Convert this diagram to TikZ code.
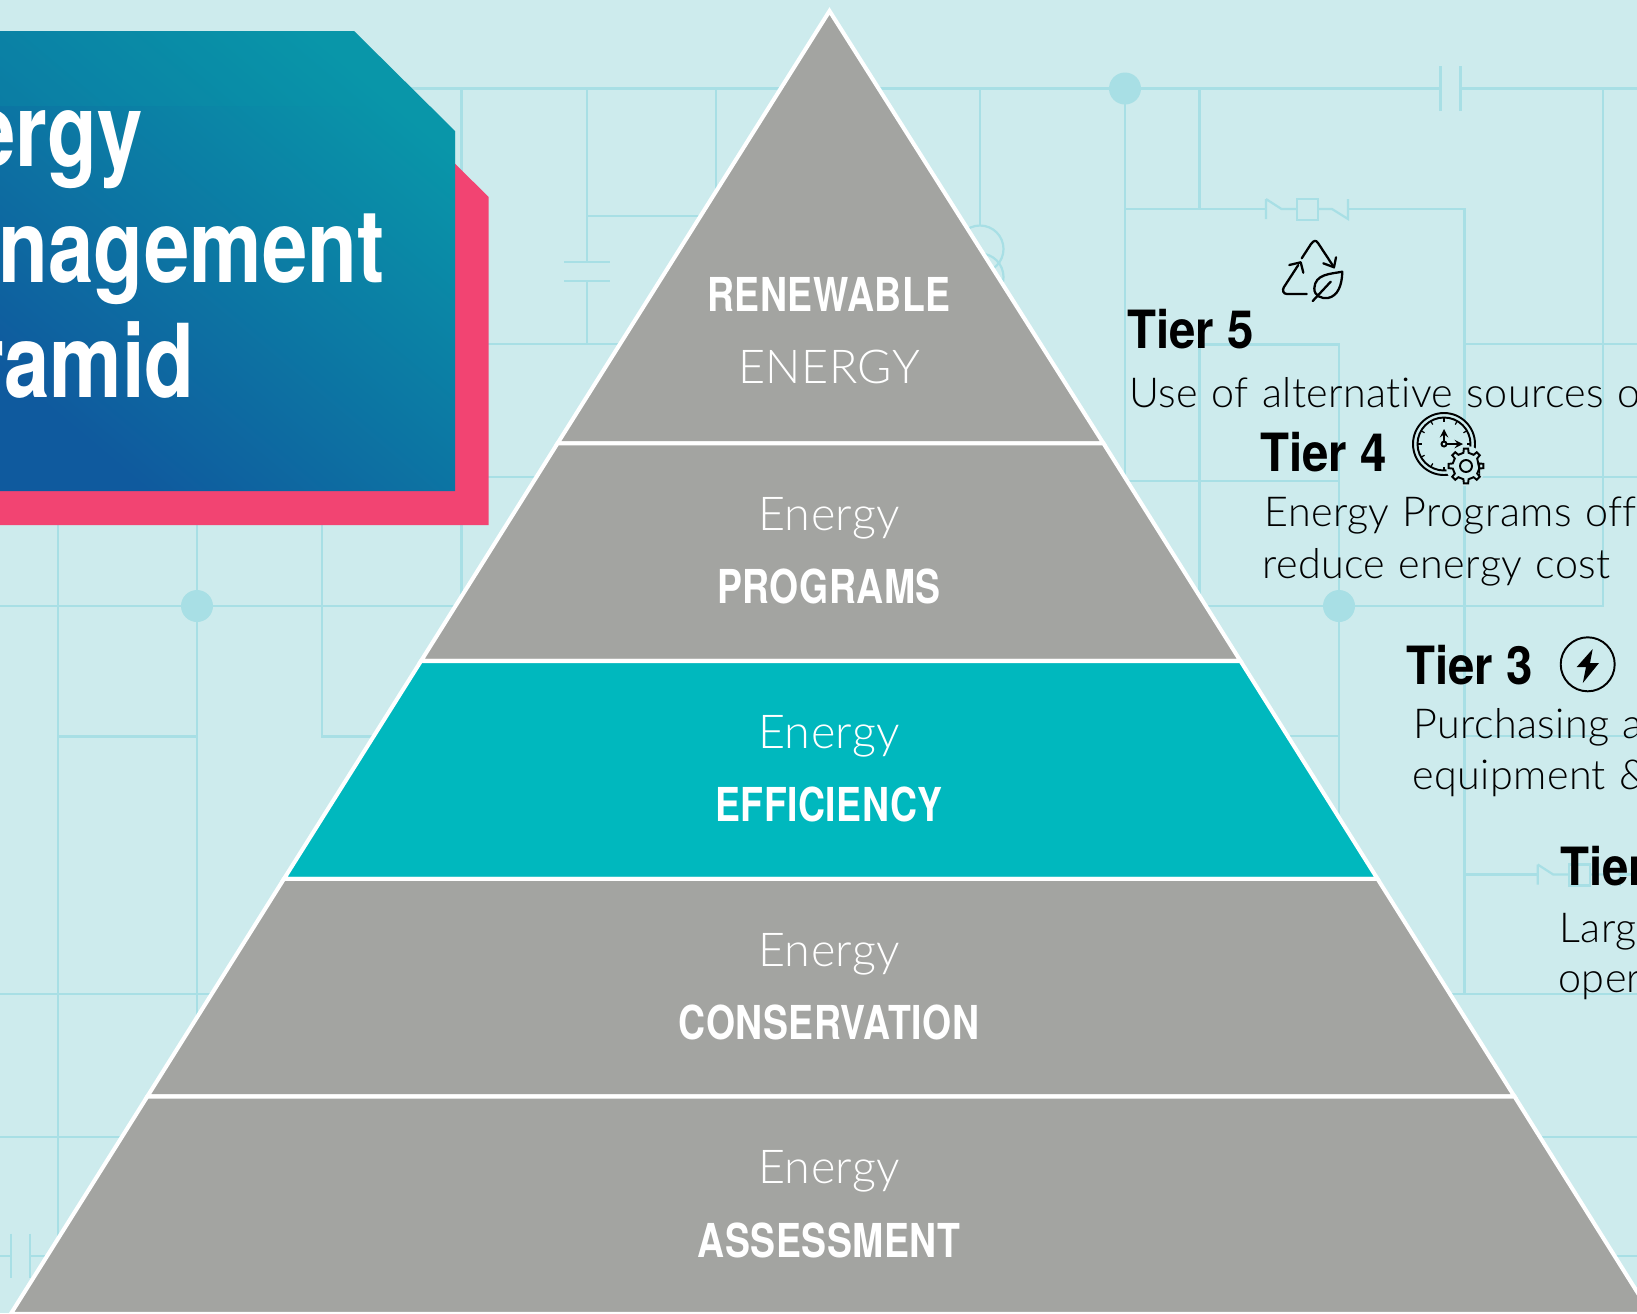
\documentclass[tikz,border=0pt]{standalone}
\usepackage{fontspec}
\usepackage{tikz}
\newfontfamily\headfont[FakeStretch=0.8,LetterSpace=1.2]{TeX Gyre Heros}
\newfontfamily\titlefont[FakeStretch=0.8]{TeX Gyre Heros}
\newfontfamily\tierfont[FakeStretch=0.9]{TeX Gyre Heros}
\newfontfamily\lightfont[Ligatures=NoCommon,LetterSpace=1,WordSpace=1.15]{Lato Light}
\definecolor{paper}{HTML}{CDEBED}
\definecolor{wirecol}{HTML}{A8DFE5}
\definecolor{flag}{HTML}{F24472}
\definecolor{stone}{HTML}{A3A4A1}
\definecolor{aqua}{HTML}{00B8BE}
\definecolor{panelA}{HTML}{0F5A9E}
\definecolor{panelB}{HTML}{0996A9}
\tikzstyle{wire} = [draw=wirecol, line width=1.25pt]
\tikzstyle{joint} = [fill=wirecol]
\tikzstyle{tier} = [draw=white, line width=2.3pt, fill=stone]
\tikzstyle{titletext} = [anchor=base east, inner sep=0pt, text=white, font=\titlefont\bfseries\fontsize{58}{60}\selectfont]
\tikzstyle{boldword} = [anchor=base, inner sep=0pt, text=white, font=\headfont\bfseries\fontsize{26.6}{28}\selectfont]
\tikzstyle{thinword} = [anchor=base, inner sep=0pt, text=white, font=\lightfont\fontsize{26.6}{28}\selectfont]
\tikzstyle{tierhead} = [anchor=base west, inner sep=0pt, font=\tierfont\bfseries\fontsize{30}{32}\selectfont]
\tikzstyle{tierbody} = [anchor=base west, inner sep=0pt, font=\lightfont\fontsize{23.5}{25}\selectfont]
\tikzstyle{icon} = [draw=black, line width=1.3pt, line cap=round, line join=round]
\tikzstyle{iconthin} = [draw=black, line width=1.1pt]

\begin{document}
\begin{tikzpicture}[x=0.02cm, y=-0.02cm]

      \useasboundingbox (0,0) rectangle (1637,1313);
      \clip (0,0) rectangle (1637,1313);
      \fill[paper] (0,0) rectangle (1637,1313);

      % Circuit
      \draw[wire] (0,88.5) -- (1440.5,88.5) (1460.5,88.5) -- (1637,88.5);
      \draw[wire] (1440.5,66) -- (1440.5,111) (1460.5,66) -- (1460.5,111);
      \draw[wire] (0,343.7) -- (800,343.7);
      \draw[wire] (0,606) -- (1603,606) -- (1603,88.5);
      \draw[wire] (0,993.6) -- (1637,993.6);
      \draw[wire] (0,1136.6) -- (1637,1136.6);
      \draw[wire] (30,1256) -- (1637,1256);
      \draw[wire] (0,1256) -- (11,1256);
      \draw[wire] (11,1233.5) -- (11,1277.6) (30,1233.5) -- (30,1277.6);
      \draw[wire] (461.5,88.5) -- (461.5,606);
      \draw[wire] (488,477) -- (800,477);
      \draw[wire] (58.3,400) -- (58.3,1290);
      \draw[wire] (197,400) -- (197,1020);
      \draw[wire] (322.3,400) -- (322.3,736.4) -- (400,736.4);
      \draw[wire] (58.3,736.4) -- (197,736.4);
      \draw[wire] (587.3,88.5) -- (587.3,261.7);
      \draw[wire] (564,261.7) -- (610,261.7) (564,281) -- (610,281);
      \draw[wire] (587.3,281) -- (587.3,343.7);
      \draw[wire] (587.3,215.7) -- (760,215.7);
      \draw[wire] (716,88.5) -- (716,240);
      \draw[wire] (980,88.5) -- (980,225.5);
      \draw[wire] (980,249) circle [radius=23.5];
      \draw[wire] (980,277) circle [radius=23.5];
      \draw[wire] (1125,88.5) -- (1125,490);
      \draw[wire] (1199.5,88.5) -- (1199.5,209);
      \draw[wire] (1125,209) -- (1266,209);
      \draw[wire] (1348,209) -- (1464.5,209) -- (1464.5,993.6);
      \draw[wire] (1464.5,874.5) -- (1537.7,874.5);
      \draw[wire] (1619.7,874.5) -- (1637,874.5);
      \foreach \cx/\cy in {1266/209,1537.7/874.5}{
        \begin{scope}[shift={(\cx,\cy)}]
          \draw[wire] (0,-10) -- (0,10) (0,-10) -- (15.5,0) -- (31,0);
          \draw[wire] (31,-10) rectangle (52,11);
          \draw[wire] (52,0) -- (66,0) -- (82,10) -- (82,-10);
        \end{scope}
      }
      \draw[wire] (1199.5,606) -- (1199.5,344.5) -- (1339,344.5) -- (1339,840);
      \draw[wire] (1100,481) -- (1339,481);
      \draw[wire] (1464.5,344) -- (1637,344);
      \draw[wire] (1464.5,476.7) -- (1637,476.7);
      \draw[wire] (1270,736) -- (1339,736) (1464.5,736) -- (1637,736);
      \fill[joint] (1125,88.5) circle [radius=16];
      \fill[joint] (197,606) circle [radius=16];
      \fill[joint] (1339,606) circle [radius=16];

      % Title panel
      \fill[flag] (0,100) -- (391,100) -- (488.6,197) -- (488.6,525) -- (0,525) -- cycle;
      \shade[left color=panelB, right color=panelA, shading angle=-40]
        (0,31) -- (354,31) -- (455,131) -- (455,491) -- (0,491) -- cycle;
      \fill[panelB, opacity=0.25] (0,31) -- (354,31) -- (455,131) -- (455,164) -- (396,106) -- (0,106) -- cycle;
      \node[titletext] (titleA) at (143,166) {ergy};
      \node[titletext] (titleB) at (385,282) {nagement};
      \node[titletext] (titleC) at (195,397) {ramid};

      % Pyramid
      \coordinate (A) at (829.5,11);
      \coordinate (B) at (557.5,443.4);
      \coordinate (C) at (1103.5,443.4);
      \coordinate (D) at (421,661);
      \coordinate (E) at (1240.5,661);
      \coordinate (F) at (284,878.8);
      \coordinate (G) at (1377.5,878.8);
      \coordinate (H) at (147.3,1096.5);
      \coordinate (I) at (1514.5,1096.5);
      \coordinate (J) at (10.7,1314);
      \coordinate (K) at (1651,1314);
      \draw[tier] (A) -- (B) -- (C) -- cycle;
      \draw[tier] (B) -- (D) -- (E) -- (C) -- cycle;
      \draw[tier, fill=aqua] (D) -- (F) -- (G) -- (E) -- cycle;
      \draw[tier] (F) -- (H) -- (I) -- (G) -- cycle;
      \draw[tier] (H) -- (J) -- (K) -- (I) -- cycle;

      % Pyramid labels
      \node[boldword] (renew) at (829,311.7) {RENEWABLE};
      \node[thinword] (renewB) at (829,383) {ENERGY};
      \node[thinword] (progA) at (829,530.5) {Energy};
      \node[boldword] (progB) at (829,603.5) {PROGRAMS};
      \node[thinword] (effA) at (829,748.5) {Energy};
      \node[boldword] (effB) at (829,821.6) {EFFICIENCY};
      \node[thinword] (consA) at (829,966.5) {Energy};
      \node[boldword] (consB) at (829,1039) {CONSERVATION};
      \node[thinword] (assA) at (829,1183.5) {Energy};
      \node[boldword] (assB) at (829,1257) {ASSESSMENT};

      % Tier texts
      \node[tierhead] (five) at (1127,348.5) {Tier 5};
      \node[tierbody] (fiveA) at (1129,407.5) {Use of alternative sources o};
      \node[tierhead] (four) at (1260,471) {Tier 4};
      \node[tierbody] (fourA) at (1264,526) {Energy Programs off};
      \node[tierbody] (fourB) at (1262,578) {reduce energy cost};
      \node[tierhead] (three) at (1406,684) {Tier 3};
      \node[tierbody] (threeA) at (1413,738) {Purchasing a};
      \node[tierbody] (threeB) at (1412,789) {equipment \&};
      \node[tierhead] (two) at (1560,885) {Tier};
      \node[tierbody] (twoA) at (1559,942) {Larg};
      \node[tierbody] (twoB) at (1558,992) {oper};

      % Recycle icon
      \draw[icon] (1301.7,258.3) -- (1311,244) .. controls (1314,240) and (1316,240) .. (1318,243) -- (1334,267.3);
      \draw[icon] (1323.3,263.3) -- (1334,267.3) -- (1336,257.3);
      \draw[icon] (1306.7,294) -- (1287,294) .. controls (1283,294) and (1282,290) .. (1284,287) -- (1298.3,265);
      \draw[icon] (1289.3,265) -- (1300.7,262.3) -- (1303.3,272.7);
      \draw[icon] (1342.3,271.7) .. controls (1330,274) and (1315,274) .. (1314.3,288.3)
        .. controls (1314,296) and (1322,299) .. (1328,298) .. controls (1338,296) and (1342,285) .. (1342.3,271.7) -- cycle;
      \draw[icon] (1312.7,301) -- (1330.7,281.7);

      % Clock icon
      \filldraw[iconthin, fill=paper] (1444,444) circle [radius=31];
      \draw[iconthin] (1444,444) circle [radius=26.5];
      \foreach \a in {0,30,...,330}{
        \draw[iconthin, line width=0.7pt] (1444,444) ++(\a:26.5) -- ++(\a:-4);
      }
      \draw[iconthin, -stealth] (1444,444) -- (1444,429);
      \draw[iconthin, -stealth] (1444,444) -- (1463,444);
      \filldraw[iconthin, fill=paper] (1444,444) circle [radius=2.5];
      \fill[paper] (1466,466) circle [radius=20];
      \begin{scope}[shift={(1466,466)}]
        \draw[iconthin] (11:13.5) \foreach \a in {0,45,...,315}{
          -- ({\a-11}:13.5) -- ({\a-7}:17.5) -- ({\a+7}:17.5) -- ({\a+11}:13.5)
        } -- cycle;
        \draw[iconthin] (0,0) circle [radius=6];
      \end{scope}

      % Bolt icon
      \draw[icon, line width=1.1pt] (1587.7,664.3) circle [radius=27];
      \fill[black] (1592.7,649) -- (1576.7,667) -- (1586,667) -- (1582.8,683) -- (1599,663) -- (1590,663) -- cycle;

\end{tikzpicture}
\end{document}
